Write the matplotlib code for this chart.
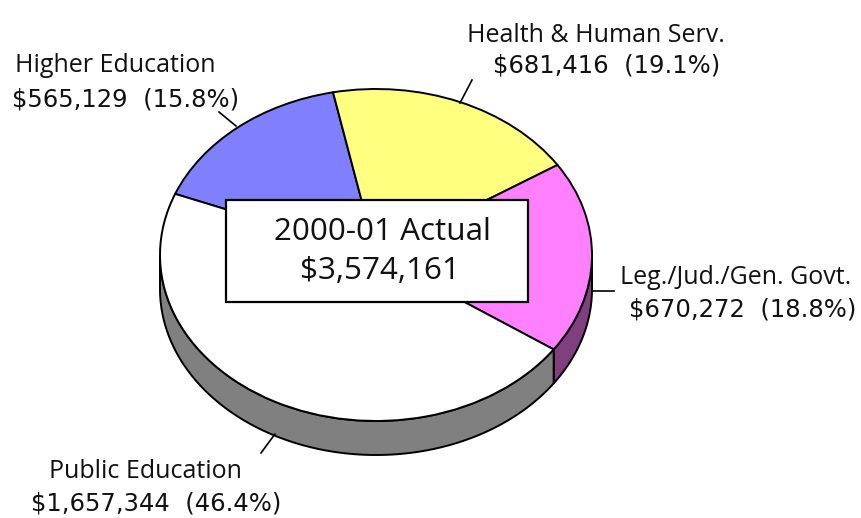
#!/usr/bin/env python
import numpy as np
import matplotlib
matplotlib.use('Agg')
import matplotlib.pyplot as plt
from matplotlib.patches import Rectangle

WIDTH, HEIGHT = 861, 518

categories = ['Higher Education', 'Health & Human Serv.',
              'Leg./Jud./Gen. Govt.', 'Public Education']
amounts = [565129, 681416, 670272, 1657344]
shares = ['15.8', '19.1', '18.8', '46.4']
top_colors = ['#8080ff', '#ffff80', '#ff80ff', '#ffffff']
side_colors = ['#404080', '#808040', '#804080', '#808080']
center_title = '2000-01 Actual'
center_total = '$3,574,161'

# Ellipse of the pie top, in image pixels.
CX, CY, RX, RY = 376.0, 255.0, 216.0, 166.0
DEPTH = 34.0 / RY
START = 158.4

plt.rcParams['font.family'] = ['Open Sans', 'DejaVu Sans']

fig = plt.figure(figsize=(WIDTH / 100, HEIGHT / 100), dpi=100)
ax = fig.add_axes([0, 0, 1, 1])


def to_x(px):
    return (px - CX) / RX


def to_y(py):
    return (CY - py) / RY


# Side wall first, so the top covers its upper edge.
fracs = np.array(amounts) / sum(amounts)
edges = START - 360.0 * np.concatenate([[0], np.cumsum(fracs)])
for i, color in enumerate(side_colors):
    # Only the part of a slice on the front of the pie shows a wall.
    a0 = min(edges[i], 0.0)
    a1 = max(edges[i + 1], -180.0)
    if a0 <= a1:
        continue
    angles = np.linspace(a0, a1, 120)
    xs = np.cos(np.radians(angles))
    ys = np.sin(np.radians(angles))
    ax.fill(np.r_[xs, xs[::-1]], np.r_[ys - DEPTH, ys[::-1]],
            facecolor=color, edgecolor='black', linewidth=1.4, zorder=1)

ax.pie(amounts, colors=top_colors, startangle=START, counterclock=False,
       radius=1.0, frame=True,
       wedgeprops={'edgecolor': 'black', 'linewidth': 1.4, 'zorder': 2})
ax.set_aspect('auto')
ax.set_xlim(to_x(0), to_x(WIDTH))
ax.set_ylim(to_y(HEIGHT), to_y(0))
ax.axis('off')

# Leader lines.
leaders = [((219, 112), (236, 126)), ((460, 103), (472, 80)),
           ((592, 291), (614, 291)), ((261, 453), (275, 434))]
for (x0, y0), (x1, y1) in leaders:
    ax.plot([to_x(x0), to_x(x1)], [to_y(y0), to_y(y1)], color='black',
            linewidth=1.2, zorder=3)

# Labels: name on the first line, amount and share on the second.
label_pos = [(115, 66), (596, 36), (736, 278), (145, 472)]
value_pos = [(125.5, 99), (607, 66), (743, 310), (156, 504)]
for i, name in enumerate(categories):
    x, y = label_pos[i]
    ax.text(to_x(x), to_y(y), name, ha='center', va='center', fontsize=18,
            color='#111111', zorder=5)
    x, y = value_pos[i]
    ax.text(to_x(x), to_y(y), '${:,}  ({}%)'.format(amounts[i], shares[i]),
            ha='center', va='center', fontsize=17.5, color='#111111',
            family='DejaVu Sans', zorder=5)

# Center box.
ax.add_patch(Rectangle((to_x(226), to_y(302)), to_x(528) - to_x(226),
                       to_y(200) - to_y(302), facecolor='white',
                       edgecolor='black', linewidth=1.6, zorder=4))
ax.text(to_x(382), to_y(232), center_title, ha='center', va='center',
        fontsize=22.6, color='#111111', zorder=5)
ax.text(to_x(380), to_y(271), center_total, ha='center', va='center',
        fontsize=22.6, color='#111111', zorder=5)

fig.savefig('out.png', dpi=100)
